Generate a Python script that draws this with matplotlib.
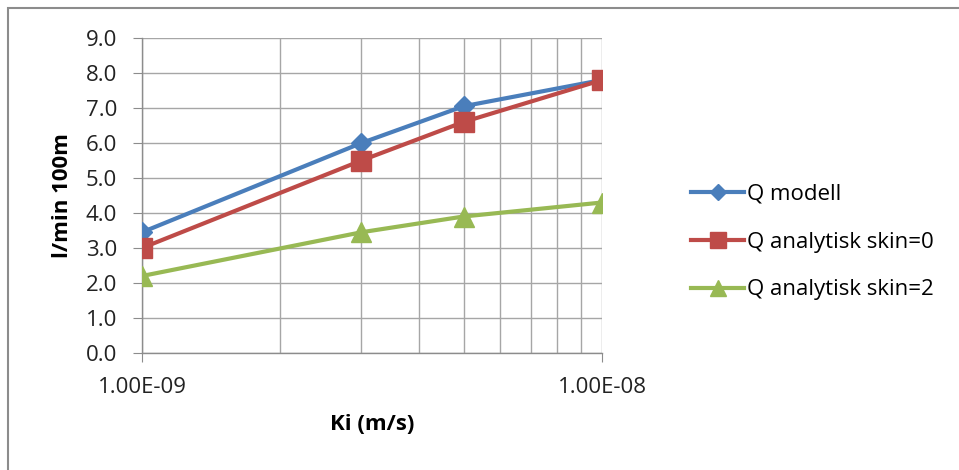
import matplotlib
matplotlib.use("Agg")
import matplotlib.pyplot as plt
from matplotlib.patches import Rectangle
from matplotlib.ticker import (LogLocator, FixedLocator, MultipleLocator,
                               FormatStrFormatter, NullFormatter, FuncFormatter)

plt.rcParams['font.family'] = ['Open Sans', 'DejaVu Sans']

ki = [1e-9, 3e-9, 5e-9, 1e-8]
q_modell = [3.45, 6.0, 7.05, 7.8]
q_skin0 = [3.0, 5.5, 6.6, 7.8]
q_skin2 = [2.2, 3.45, 3.9, 4.3]
labels = ["Q modell", "Q analytisk skin=0", "Q analytisk skin=2"]
xtick_labels = ["1.00E-09", "1.00E-08"]
colors = ["#4A7EBB", "#BE4B48", "#98B954"]

W, H = 959, 470
fig = plt.figure(figsize=(W / 100, H / 100), dpi=100)
fig.patch.set_facecolor("white")

# outer chart frame
fig.add_artist(Rectangle((8 / W, -0.1), 1.2, 1 - 8 / H + 0.1, transform=fig.transFigure,
                         fill=False, edgecolor="#8c8c8c", linewidth=1.5))

left, right, top, bottom = 142, 602, 38, 353
ax = fig.add_axes([left / W, 1 - bottom / H, (right - left) / W, (bottom - top) / H])

ax.plot(ki, q_modell, color=colors[0], lw=3, marker="D", ms=10, label=labels[0], zorder=3)
ax.plot(ki, q_skin0, color=colors[1], lw=3, marker="s", ms=14, label=labels[1], zorder=3)
ax.plot(ki, q_skin2, color=colors[2], lw=3, marker="^", ms=14, label=labels[2], zorder=3)

ax.set_xscale("log")
ax.set_xlim(1e-9, 1e-8)
ax.set_ylim(0, 9)
ax.yaxis.set_major_locator(MultipleLocator(1.0))
ax.yaxis.set_major_formatter(FormatStrFormatter("%.1f"))
ax.xaxis.set_major_locator(FixedLocator([1e-9, 1e-8]))
ax.xaxis.set_major_formatter(FuncFormatter(lambda v, p: xtick_labels[0] if v < 5e-9 else xtick_labels[1]))
ax.xaxis.set_minor_locator(LogLocator(base=10, subs=range(2, 10)))
ax.xaxis.set_minor_formatter(NullFormatter())

ax.grid(True, which="major", color="#a6a6a6", lw=1)
ax.grid(True, which="minor", axis="x", color="#a6a6a6", lw=1)
ax.set_axisbelow(True)

for s in ["top", "right"]:
    ax.spines[s].set_visible(False)
for s in ["left", "bottom"]:
    ax.spines[s].set_color("#8c8c8c")
    ax.spines[s].set_linewidth(1)

ax.tick_params(axis="both", which="major", direction="out", length=6.5, color="#8c8c8c",
               labelsize=16, labelcolor="#222222")
ax.tick_params(axis="y", which="major", pad=11.5)
ax.tick_params(axis="x", which="major", pad=11)
ax.tick_params(axis="x", which="minor", length=0)

ax.set_xlabel("Ki (m/s)", fontsize=16, fontweight="bold", labelpad=11)
ax.set_ylabel("l/min 100m", fontsize=16, fontweight="bold", labelpad=9)

ax.legend(loc="center left", bbox_to_anchor=(1.15, 0.352), frameon=False, fontsize=16,
          handlelength=2.4, handletextpad=0.1, labelspacing=1.2, markerscale=0.8)

fig.savefig("out.png", dpi=100)
